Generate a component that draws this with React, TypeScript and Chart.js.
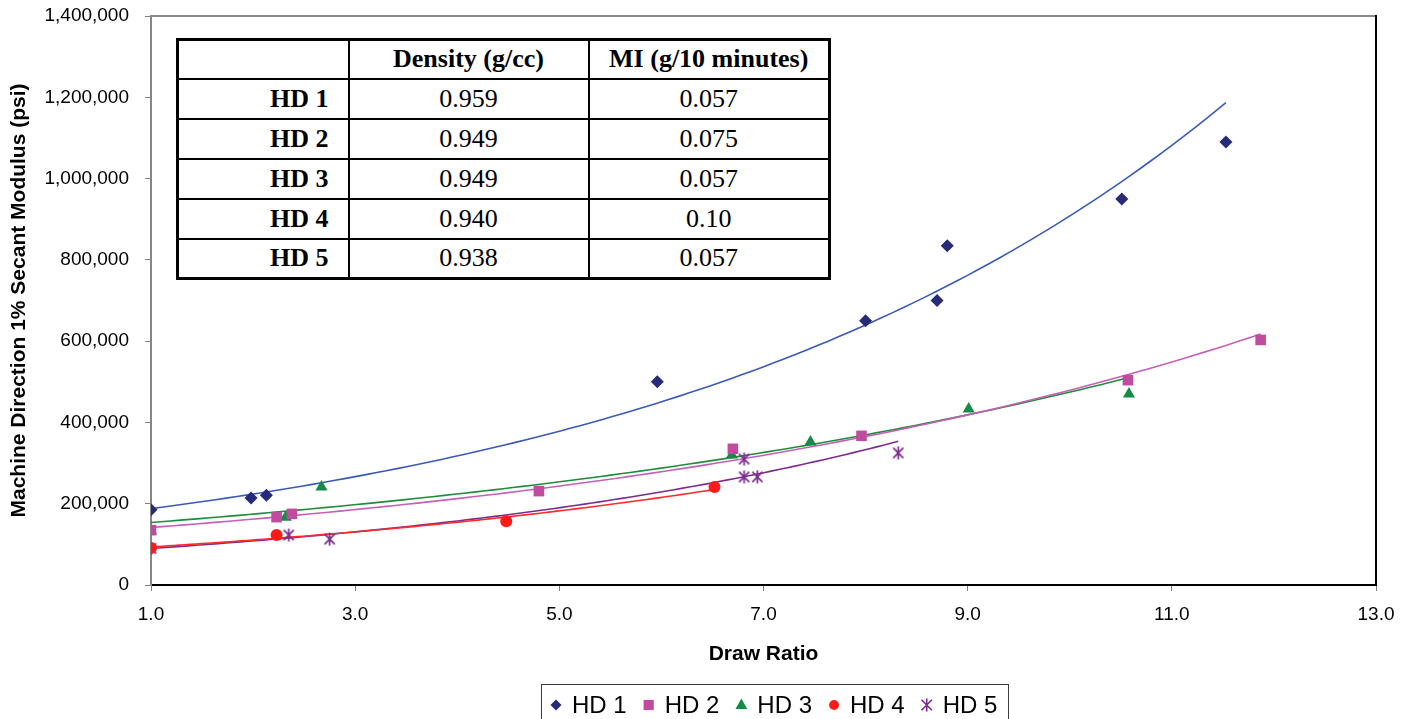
import React, { useEffect, useRef } from 'react';
import { Chart, registerables } from 'chart.js';

Chart.register(...registerables);

// ---- Data ----
const seriesNames = ['HD 1', 'HD 2', 'HD 3', 'HD 4', 'HD 5'];

const hd1X = [1.0, 1.98, 2.13, 5.96, 8.0, 8.7, 8.8, 10.51, 11.53];
const hd1Y = [185000, 214000, 221000, 500000, 650000, 700000, 835000, 950000, 1090000];

const hd2X = [1.0, 2.23, 2.38, 4.8, 6.7, 7.96, 10.57, 11.87];
const hd2Y = [135000, 167000, 175000, 231000, 335000, 367000, 504000, 603000];

const hd3X = [1.0, 2.32, 2.67, 6.69, 7.46, 9.01, 10.58];
const hd3Y = [133000, 167000, 241000, 320000, 352000, 433000, 470000];

const hd4X = [1.0, 2.23, 4.48, 6.52];
const hd4Y = [91000, 123000, 157000, 241000];

const hd5X = [1.0, 2.35, 2.75, 6.81, 6.81, 6.94, 8.32];
const hd5Y = [90000, 123000, 113000, 310000, 266000, 266000, 325000];

const xTickMin = 1;
const xTickMax = 13;
const xTickStep = 2;
const yTickMin = 0;
const yTickMax = 1400000;
const yTickStep = 200000;

const tableHeader = ['', 'Density (g/cc)', 'MI (g/10 minutes)'];
const tableDensity = ['0.959', '0.949', '0.949', '0.940', '0.938'];
const tableMI = ['0.057', '0.075', '0.057', '0.10', '0.057'];

// ---- Styles ----
const markerColors = ['#262a78', '#c04ca0', '#168a46', '#ff1a1a', '#7a2a8c'];
const lineColors = ['#3a5ab8', '#c65fb6', '#1e8c3a', '#ff2a2a', '#7b2c8e'];
const markerStyles = ['diamond', 'square', 'triangle', 'circle', 'asterisk'];
const SANS = '"Liberation Sans", Arial, Helvetica, sans-serif';
const SERIF = '"Liberation Serif", "Times New Roman", Times, serif';

function expFit(xs: number[], ys: number[]) {
  const n = xs.length;
  let sx = 0, sy = 0, sxx = 0, sxy = 0;
  for (let i = 0; i < n; i++) {
    const ly = Math.log(ys[i]);
    sx += xs[i]; sy += ly; sxx += xs[i] * xs[i]; sxy += xs[i] * ly;
  }
  const b = (n * sxy - sx * sy) / (n * sxx - sx * sx);
  const a = Math.exp((sy - b * sx) / n);
  return { a, b };
}

function trendPoints(xs: number[], ys: number[]) {
  const { a, b } = expFit(xs, ys);
  const lo = Math.min(...xs);
  const hi = Math.max(...xs);
  const pts: { x: number; y: number }[] = [];
  const steps = 100;
  for (let i = 0; i <= steps; i++) {
    const x = lo + ((hi - lo) * i) / steps;
    pts.push({ x, y: a * Math.exp(b * x) });
  }
  return pts;
}

function makeAsterisk(size: number, color: string) {
  const c = document.createElement('canvas');
  c.width = size;
  c.height = size;
  const ctx = c.getContext('2d')!;
  ctx.strokeStyle = color;
  ctx.lineWidth = 1.7;
  const m = size / 2;
  const r = size / 2 - 1;
  const d = r * 0.78;
  ctx.beginPath();
  ctx.moveTo(m, m - r);
  ctx.lineTo(m, m + r);
  ctx.moveTo(m - d, m - d);
  ctx.lineTo(m + d, m + d);
  ctx.moveTo(m + d, m - d);
  ctx.lineTo(m - d, m + d);
  ctx.stroke();
  return c;
}

function drawMarker(ctx: CanvasRenderingContext2D, style: string, x: number, y: number, color: string, s: number) {
  ctx.save();
  ctx.fillStyle = color;
  ctx.strokeStyle = color;
  ctx.beginPath();
  if (style === 'diamond') {
    ctx.moveTo(x, y - s);
    ctx.lineTo(x + s, y);
    ctx.lineTo(x, y + s);
    ctx.lineTo(x - s, y);
    ctx.closePath();
    ctx.fill();
  } else if (style === 'square') {
    ctx.rect(x - s * 0.85, y - s * 0.85, s * 1.7, s * 1.7);
    ctx.fill();
  } else if (style === 'triangle') {
    ctx.moveTo(x, y - s);
    ctx.lineTo(x + s * 0.9, y + s * 0.6);
    ctx.lineTo(x - s * 0.9, y + s * 0.6);
    ctx.closePath();
    ctx.fill();
  } else if (style === 'circle') {
    ctx.arc(x, y, s * 0.9, 0, Math.PI * 2);
    ctx.fill();
  } else {
    ctx.lineWidth = 1.6;
    const d = s * 0.8;
    ctx.moveTo(x, y - s);
    ctx.lineTo(x, y + s);
    ctx.moveTo(x - d, y - d);
    ctx.lineTo(x + d, y + d);
    ctx.moveTo(x + d, y - d);
    ctx.lineTo(x - d, y + d);
    ctx.stroke();
  }
  ctx.restore();
}

const framePlugin = {
  id: 'frameBorders',
  afterDraw(chart: any) {
    const { ctx, chartArea } = chart;
    const { left, right, top, bottom } = chartArea;
    ctx.save();
    ctx.lineWidth = 2;
    ctx.strokeStyle = '#8a8a8a';
    ctx.beginPath();
    ctx.moveTo(left, top);
    ctx.lineTo(right, top);
    ctx.stroke();
    ctx.strokeStyle = '#000';
    ctx.beginPath();
    ctx.moveTo(right, top - 1);
    ctx.lineTo(right, bottom + 1);
    ctx.stroke();
    ctx.restore();
  },
};

const legendPlugin = {
  id: 'boxedLegend',
  afterDraw(chart: any) {
    const ctx: CanvasRenderingContext2D = chart.ctx;
    ctx.save();
    ctx.strokeStyle = '#3c3c3c';
    ctx.lineWidth = 1;
    ctx.strokeRect(541.5, 684.5, 467, 60);
    ctx.font = `24px ${SANS}`;
    ctx.textBaseline = 'middle';
    ctx.textAlign = 'left';
    const y = 705;
    let x = 556;
    const sizes = [5.5, 6, 6.5, 5.5, 6.5];
    seriesNames.forEach((name, i) => {
      drawMarker(ctx, markerStyles[i], x, y, markerColors[i], sizes[i]);
      ctx.fillStyle = '#000';
      ctx.fillText(name, x + 16, y + 1);
      const w = ctx.measureText(name).width;
      x = x + 16 + w + 22;
    });
    ctx.restore();
  },
};

export default function App() {
  const canvasRef = useRef<HTMLCanvasElement | null>(null);

  useEffect(() => {
    document.body.style.margin = '0';
    const canvas = canvasRef.current;
    if (!canvas) return;

    const xs = [hd1X, hd2X, hd3X, hd4X, hd5X];
    const ys = [hd1Y, hd2Y, hd3Y, hd4Y, hd5Y];

    const pointStyles: any[] = ['rectRot', 'rect', 'triangle', 'circle', makeAsterisk(15, markerColors[4])];
    const pointRadii = [6.5, 7.5, 7, 6, 7.5];

    const trendSets = xs.map((xArr, i) => ({
      type: 'scatter' as const,
      label: seriesNames[i] + ' trend',
      data: trendPoints(xArr, ys[i]),
      showLine: true,
      borderColor: lineColors[i],
      backgroundColor: lineColors[i],
      borderWidth: 1.6,
      pointRadius: 0,
      pointHoverRadius: 0,
      order: 10,
    }));

    const markerSets = xs.map((xArr, i) => ({
      type: 'scatter' as const,
      label: seriesNames[i],
      data: xArr.map((x, j) => ({ x, y: ys[i][j] })),
      showLine: false,
      pointStyle: pointStyles[i],
      pointRadius: pointRadii[i],
      pointHoverRadius: pointRadii[i],
      backgroundColor: markerColors[i],
      borderColor: markerColors[i],
      borderWidth: 0,
      order: 1,
    }));

    const chart = new Chart(canvas, {
      type: 'scatter',
      data: { datasets: [...trendSets, ...markerSets] as any },
      options: {
        animation: false,
        responsive: false,
        devicePixelRatio: 1,
        layout: { padding: { top: 16, right: 34, bottom: 44, left: 0 } },
        plugins: {
          legend: { display: false },
          tooltip: { enabled: false },
        },
        scales: {
          x: {
            type: 'linear',
            min: xTickMin,
            max: xTickMax,
            ticks: {
              stepSize: xTickStep,
              callback: (v: any) => Number(v).toFixed(1),
              font: { size: 19, family: SANS },
              color: '#000',
              padding: 12,
              maxRotation: 0,
              autoSkip: false,
            },
            grid: { display: true, drawOnChartArea: false, drawTicks: true, tickLength: 6, color: '#808080' },
            border: { display: true, color: '#000', width: 2 },
            title: {
              display: true,
              text: 'Draw Ratio',
              font: { size: 21, weight: 'bold', family: SANS },
              color: '#000',
              padding: { top: 0, bottom: 8 },
            },
            afterFit: (s: any) => { s.height = 90; s.paddingLeft = 0; s.paddingRight = 0; },
          },
          y: {
            type: 'linear',
            min: yTickMin,
            max: yTickMax,
            ticks: {
              stepSize: yTickStep,
              callback: (v: any) => Number(v).toLocaleString('en-US'),
              font: { size: 19, family: SANS },
              color: '#000',
              padding: 16,
            },
            grid: { display: true, drawOnChartArea: false, drawTicks: true, tickLength: 6, color: '#808080' },
            border: { display: true, color: '#868686', width: 2 },
            title: {
              display: true,
              text: 'Machine Direction 1% Secant Modulus (psi)',
              font: { size: 21, weight: 'bold', family: SANS },
              color: '#000',
              padding: { top: 7, bottom: 0 },
            },
            afterFit: (s: any) => { s.width = 151; s.paddingTop = 0; s.paddingBottom = 0; },
          },
        },
      } as any,
      plugins: [framePlugin, legendPlugin],
    });

    return () => chart.destroy();
  }, []);

  const cellBorder = '2px solid #000';
  const colWidths = [171, 240, 241];

  return (
    <div style={{ position: 'relative', width: 1410, height: 719, background: '#fff', overflow: 'hidden' }}>
      <canvas ref={canvasRef} width={1410} height={719} style={{ display: 'block', width: 1410, height: 719 }} />
      <table
        style={{
          position: 'absolute',
          left: 176,
          top: 38,
          width: 652,
          height: 240,
          borderCollapse: 'collapse',
          fontFamily: SERIF,
          fontSize: 26,
          background: '#fff',
          color: '#000',
          border: '3px solid #000',
          tableLayout: 'fixed',
        }}
      >
        <colgroup>
          {colWidths.map((w, i) => (
            <col key={i} style={{ width: w }} />
          ))}
        </colgroup>
        <tbody>
          <tr style={{ height: 39 }}>
            {tableHeader.map((h, i) => (
              <td key={i} style={{ border: cellBorder, textAlign: 'center', fontWeight: 'bold', padding: 0, lineHeight: 1 }}>
                {h}
              </td>
            ))}
          </tr>
          {seriesNames.map((name, r) => (
            <tr key={name} style={{ height: 40 }}>
              <td style={{ border: cellBorder, textAlign: 'right', fontWeight: 'bold', padding: '0 19px 0 0', lineHeight: 1 }}>{name}</td>
              <td style={{ border: cellBorder, textAlign: 'center', padding: 0, lineHeight: 1 }}>{tableDensity[r]}</td>
              <td style={{ border: cellBorder, textAlign: 'center', padding: 0, lineHeight: 1 }}>{tableMI[r]}</td>
            </tr>
          ))}
        </tbody>
      </table>
    </div>
  );
}
